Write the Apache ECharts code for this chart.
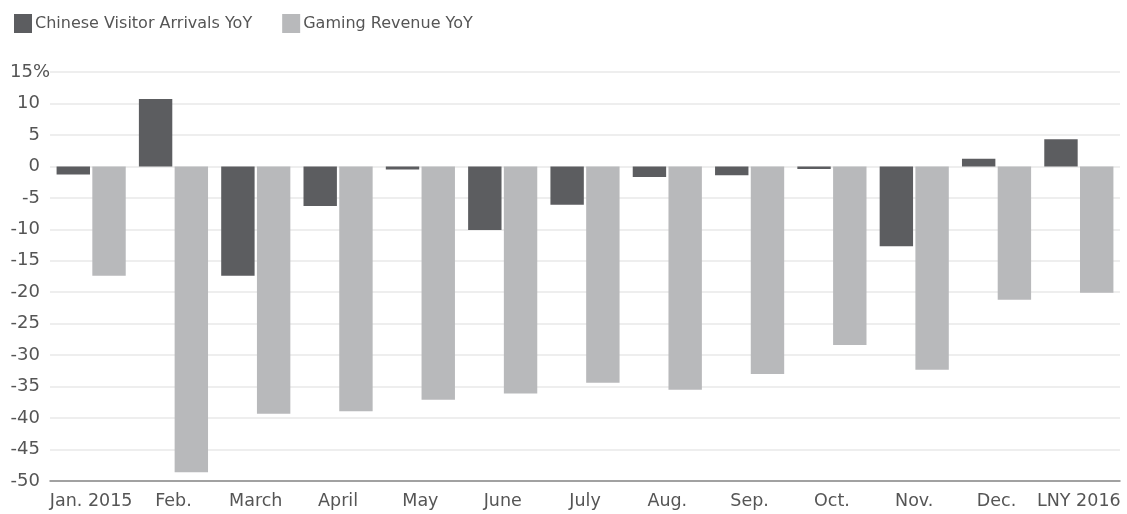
<!DOCTYPE html>
<html>
<head>
<meta charset="utf-8">
<script src="https://cdn.jsdelivr.net/npm/echarts@6/dist/echarts.min.js"></script>
<style>
  html, body { margin: 0; padding: 0; background: #fff; }
  #chart { width: 1127px; height: 514px; }
</style>
</head>
<body>
<div id="chart"></div>
<script>
// 数据
const months = ['Jan. 2015', 'Feb.', 'March', 'April', 'May', 'June', 'July', 'Aug.', 'Sep.', 'Oct.', 'Nov.', 'Dec.', 'LNY 2016'];
const visitorArrivals = [-1.3, 10.7, -17.4, -6.3, -0.5, -10.1, -6.1, -1.7, -1.4, -0.4, -12.7, 1.2, 4.3];
const gamingRevenue = [-17.4, -48.6, -39.3, -38.9, -37.1, -36.1, -34.4, -35.5, -33.0, -28.4, -32.3, -21.2, -20.1];

const textColor = '#555';
const font = 'DejaVu Sans, Liberation Sans, sans-serif';

let myChart = echarts.init(document.getElementById('chart'));

let option = {
  animation: false,
  backgroundColor: '#fff',
  legend: {
    left: 9,
    top: 9,
    itemWidth: 18,
    itemHeight: 19,
    itemGap: 30,
    icon: 'rect',
    textStyle: { color: textColor, fontSize: 16, fontFamily: font, padding: [0, 0, 0, -2] },
    data: ['Chinese Visitor Arrivals YoY', 'Gaming Revenue YoY']
  },
  grid: {
    left: 50,
    right: 7,
    top: 72,
    bottom: 33
  },
  xAxis: {
    type: 'category',
    data: months,
    axisLine: { onZero: false, lineStyle: { color: '#888', width: 1.5 } },
    axisTick: { alignWithLabel: true, length: 5, lineStyle: { color: '#888' } },
    axisLabel: { color: textColor, fontSize: 17.5, fontFamily: font, margin: 11, interval: 0 }
  },
  yAxis: {
    type: 'value',
    min: -50,
    max: 15,
    interval: 5,
    axisLine: { show: false },
    axisTick: { show: false },
    splitLine: { lineStyle: { color: '#e8e8e8', width: 1.5 } },
    axisLabel: {
      color: textColor,
      fontSize: 18,
      fontFamily: font,
      margin: 0,
      align: 'right',
      formatter: function (v) {
        return v === 15 ? '15%' : v + '{s| }';
      },
      rich: {
        s: { width: 10, fontSize: 18 }
      }
    }
  },
  series: [
    {
      name: 'Chinese Visitor Arrivals YoY',
      type: 'bar',
      data: visitorArrivals,
      barGap: '7%',
      barCategoryGap: '16%',
      itemStyle: { color: '#5c5d60' }
    },
    {
      name: 'Gaming Revenue YoY',
      type: 'bar',
      data: gamingRevenue,
      itemStyle: { color: '#b8b9bb' }
    }
  ]
};

myChart.setOption(option);
</script>
</body>
</html>
